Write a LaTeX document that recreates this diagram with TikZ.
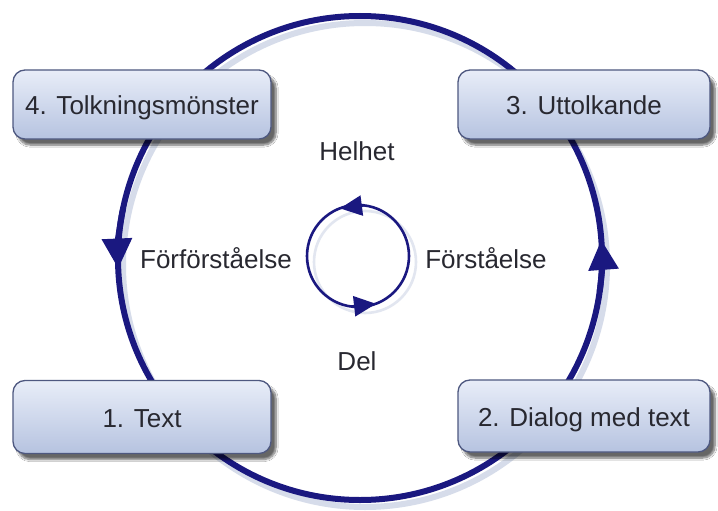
\documentclass[tikz,border=0pt]{standalone}
\usepackage{fontspec}
\setmainfont{Liberation Sans}
\usetikzlibrary{arrows.meta,shadows.blur}
\definecolor{ring}{RGB}{26,24,128}
\definecolor{ringshade}{RGB}{214,220,234}
\definecolor{boxedge}{RGB}{78,88,128}
\definecolor{boxtop}{RGB}{232,237,248}
\definecolor{boxbot}{RGB}{182,195,224}
\definecolor{txt}{RGB}{40,40,48}
\begin{document}
\begin{tikzpicture}[x=1pt,y=-1pt,
  stage/.style={draw=boxedge, line width=1.3pt, rounded corners=12pt,
    top color=boxtop, bottom color=boxbot, text=txt, inner sep=0pt,
    font=\fontsize{26}{30}\selectfont, text height=20pt, text depth=0pt,
    blur shadow={shadow xshift=5pt, shadow yshift=-6pt, shadow blur steps=8, shadow opacity=60}},
  label/.style={text=txt, inner sep=0pt, anchor=base, font=\fontsize{26}{30}\selectfont},
  bigring/.style={draw=ring, line width=6pt},
  bigshade/.style={draw=ringshade, line width=6pt},
  smallring/.style={draw=ring, line width=2.6pt},
  smallshade/.style={draw=ringshade!70!white, line width=2.6pt},
  bigtip/.style={draw=ring, line width=6pt, -{Triangle[length=30pt,width=29pt]}},
  smalltip/.style={draw=ring, line width=2.6pt, -{Triangle[length=22pt,width=20pt]}}]
  \useasboundingbox (0,0) rectangle (718,511);
  \fill[white] (0,0) rectangle (718,511);

  % centres of the two cycles
  \coordinate (outer) at (360,258);
  \coordinate (inner) at (358,256);

  % outer cycle with its soft shadow
  \draw[bigshade] ([shift={(5,7)}]outer) circle[radius=242];
  \draw[bigring] (outer) circle[radius=242];
  \draw[bigtip] (outer) ++(192:242) arc[start angle=192, end angle=177.5, radius=242];
  \draw[bigtip] (outer) ++(8:242) arc[start angle=8, end angle=-4.3, radius=242];

  % inner cycle
  \draw[smallshade] ([shift={(7,6)}]inner) circle[radius=51];
  \draw[smallring] (inner) circle[radius=51];
  \coordinate (topfrom) at (364,205.3);
  \coordinate (topto) at (340,208.4);
  \coordinate (botfrom) at (351,306.6);
  \coordinate (botto) at (376,303.8);
  \draw[smalltip] (topfrom) -- (topto);
  \draw[smalltip] (botfrom) -- (botto);

  % stages
  \node[stage, minimum width=258pt, minimum height=69pt] (s4) at (142,104.5) {4. Tolkningsmönster};
  \node[stage, minimum width=252pt, minimum height=69pt] (s3) at (584,104.5) {3. Uttolkande};
  \node[stage, minimum width=258pt, minimum height=73pt] (s1) at (142,417) {1. Text};
  \node[stage, minimum width=252pt, minimum height=72pt] (s2) at (584,416) {2. Dialog med text};

  % labels around the inner cycle
  \node[label] (whole) at (357,160) {Helhet};
  \node[label] (part) at (357,370) {Del};
  \node[label] (pre) at (216,268) {Förförståelse};
  \node[label] (post) at (486,268) {Förståelse};
\end{tikzpicture}
\end{document}
